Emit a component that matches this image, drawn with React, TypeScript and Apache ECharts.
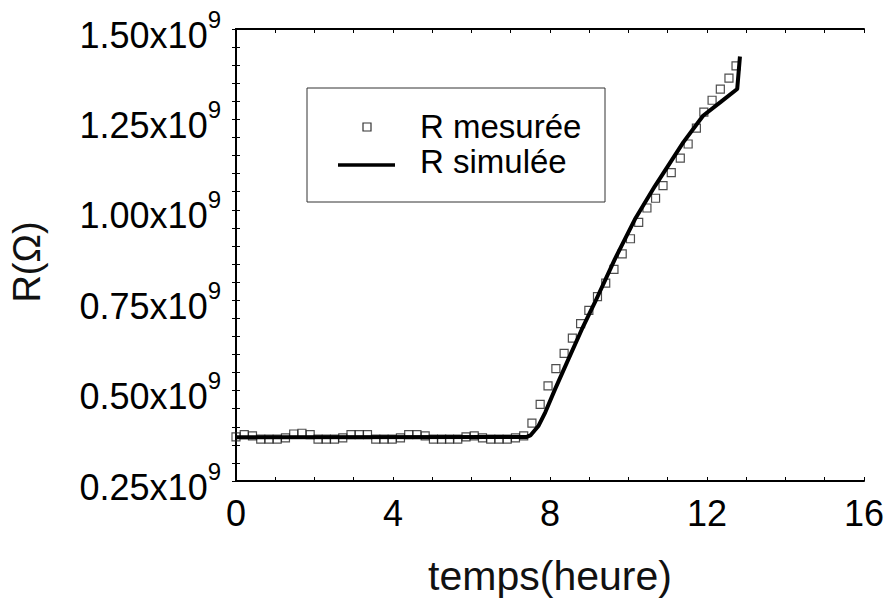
import React, { useEffect, useRef } from "react";
import * as echarts from "echarts";

// Measured resistance (x10^9 Ohm) vs time (hours)
const measuredTime = [
  0, 0.21, 0.42, 0.63, 0.84, 1.05, 1.26, 1.47, 1.68, 1.89, 2.09, 2.3, 2.51, 2.72, 2.93, 3.14,
  3.35, 3.56, 3.77, 3.98, 4.19, 4.4, 4.61, 4.82, 5.03, 5.24, 5.44, 5.65, 5.86, 6.07, 6.28, 6.49,
  6.7, 6.91, 7.12, 7.33, 7.54, 7.75, 7.95, 8.15, 8.36, 8.57, 8.78, 8.99, 9.21, 9.42, 9.63, 9.84,
  10.05, 10.26, 10.47, 10.69, 10.88, 11.09, 11.32, 11.52, 11.73, 11.92, 12.13, 12.34, 12.56, 12.74,
];
const measuredR = [
  0.372, 0.378, 0.375, 0.366, 0.366, 0.366, 0.369, 0.38, 0.382, 0.378, 0.366, 0.366, 0.366, 0.369,
  0.378, 0.378, 0.378, 0.366, 0.366, 0.366, 0.369, 0.378, 0.378, 0.375, 0.366, 0.366, 0.366, 0.366,
  0.372, 0.375, 0.369, 0.366, 0.366, 0.366, 0.369, 0.375, 0.41, 0.462, 0.513, 0.561, 0.603, 0.645,
  0.685, 0.722, 0.76, 0.797, 0.835, 0.878, 0.92, 0.965, 1.005, 1.032, 1.067, 1.103, 1.143, 1.182,
  1.226, 1.27, 1.303, 1.334, 1.364, 1.398,
];

// Simulated resistance
const simTime = [0, 7.41, 7.5, 7.71, 7.88, 8.13, 8.47, 8.81, 9.14, 9.65, 10.16, 10.67, 11.4, 11.9, 12.36, 12.77, 12.84];
const simR = [0.371, 0.372, 0.376, 0.403, 0.44, 0.504, 0.587, 0.669, 0.743, 0.863, 0.973, 1.065, 1.187, 1.26, 1.299, 1.334, 1.424];

const xTicks = [0, 4, 8, 12, 16];
const yTicks = [0.25, 0.5, 0.75, 1.0, 1.25, 1.5];

const legendNames = ["R mesurée", "R simulée"];
const FONT = "'Liberation Sans', Arial, Helvetica, sans-serif";

export default function App() {
  const ref = useRef<HTMLDivElement>(null);
  useEffect(() => {
    if (!ref.current) return;
    const chart = echarts.init(ref.current, undefined, { renderer: "svg" });
    const gridL = 233, gridT = 29, gridW = 631, gridH = 453;
    const axisCommon = {
      axisLine: { show: true, lineStyle: { color: "#000", width: 2 } },
      axisTick: { show: true, inside: true, length: 4, lineStyle: { color: "#000", width: 1 } },
      minorTick: { show: true, length: 4, lineStyle: { color: "#000", width: 1 } },
      splitLine: { show: false },
    };
    chart.setOption({
      animation: false,
      backgroundColor: "#fff",
      grid: { left: gridL, top: gridT, width: gridW, height: gridH, containLabel: false },
      xAxis: [
        {
          type: "value",
          min: xTicks[0],
          max: xTicks[xTicks.length - 1],
          interval: 4,
          position: "bottom",
          name: "temps(heure)",
          nameLocation: "middle",
          nameGap: 74,
          nameTextStyle: { fontFamily: FONT, fontSize: 41, color: "#111", verticalAlign: "top" },
          ...axisCommon,
          minorTick: { ...axisCommon.minorTick, splitNumber: 4 },
          axisLabel: { fontFamily: FONT, fontSize: 36, color: "#000", margin: 14 },
        },
        {
          type: "value",
          min: xTicks[0],
          max: xTicks[xTicks.length - 1],
          interval: 4,
          position: "top",
          ...axisCommon,
          minorTick: { ...axisCommon.minorTick, splitNumber: 4 },
          axisLabel: { show: false },
        },
      ],
      yAxis: [
        {
          type: "value",
          min: yTicks[0],
          max: yTicks[yTicks.length - 1],
          interval: 0.25,
          position: "left",
          name: "R(\u03A9)",
          nameLocation: "middle",
          nameGap: 190,
          nameRotate: 90,
          nameTextStyle: { fontFamily: FONT, fontSize: 38, color: "#111", padding: [0, 14, 0, 0] },
          ...axisCommon,
          minorTick: { ...axisCommon.minorTick, splitNumber: 5 },
          axisLabel: {
            margin: 15,
            formatter: (v: number) => `{a|${v.toFixed(2)}x10}{b|9}`,
            rich: {
              a: { fontFamily: FONT, fontSize: 36, lineHeight: 36, color: "#000", padding: [12, 0, 0, 0] },
              b: { fontFamily: FONT, fontSize: 24, lineHeight: 24, color: "#000", padding: [2, 0, 22, 0] },
            },
          },
        },
        {
          type: "value",
          min: yTicks[0],
          max: yTicks[yTicks.length - 1],
          interval: 0.25,
          position: "right",
          ...axisCommon,
          minorTick: { ...axisCommon.minorTick, splitNumber: 5 },
          axisLabel: { show: false },
        },
      ],
      series: [
        {
          name: legendNames[0],
          type: "scatter",
          symbol: "rect",
          symbolSize: 8,
          itemStyle: { color: "rgba(0,0,0,0)", borderColor: "#222", borderWidth: 1.2 },
          data: measuredTime.map((t, i) => [t, measuredR[i]]),
          z: 2,
        },
        {
          name: legendNames[1],
          type: "line",
          showSymbol: false,
          symbol: "none",
          lineStyle: { color: "#000", width: 4 },
          data: simTime.map((t, i) => [t, simR[i]]),
          z: 3,
        },
      ],
      graphic: [
        {
          type: "rect",
          shape: { x: 307, y: 88, width: 298, height: 114 },
          style: { fill: "#fff", stroke: "#333", lineWidth: 1 },
          z: 10,
        },
        {
          type: "rect",
          shape: { x: 363, y: 123, width: 8, height: 8 },
          style: { fill: "none", stroke: "#333", lineWidth: 1.2 },
          z: 11,
        },
        {
          type: "line",
          shape: { x1: 338, y1: 165, x2: 395, y2: 165 },
          style: { stroke: "#000", lineWidth: 3.5 },
          z: 11,
        },
        {
          type: "text",
          x: 420,
          y: 126,
          style: { text: legendNames[0], font: `33px ${FONT}`, fill: "#000", align: "left", verticalAlign: "middle" },
          z: 11,
        },
        {
          type: "text",
          x: 420,
          y: 161,
          style: { text: legendNames[1], font: `33px ${FONT}`, fill: "#000", align: "left", verticalAlign: "middle" },
          z: 11,
        },
      ],
    });
    return () => chart.dispose();
  }, []);
  return (
    <div
      ref={ref}
      style={{ position: "fixed", left: 0, top: 0, width: 887, height: 601, background: "#fff" }}
    />
  );
}
